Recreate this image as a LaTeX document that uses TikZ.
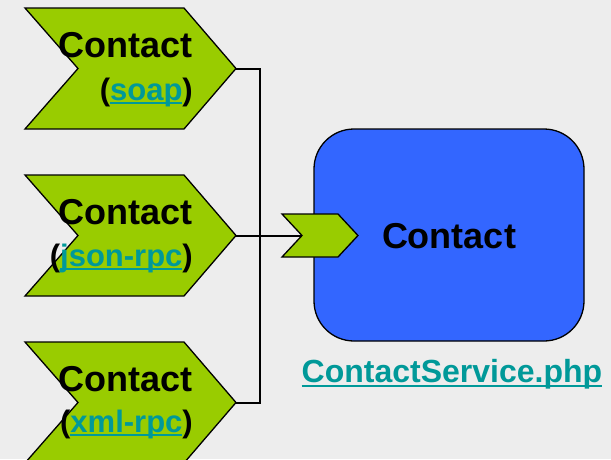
\documentclass[tikz,border=0pt]{standalone}
\usepackage{fontspec}
\setmainfont{Liberation Sans}
\definecolor{bg}{RGB}{237,237,237}
\definecolor{leaf}{RGB}{153,204,0}
\definecolor{svcblue}{RGB}{51,102,255}
\definecolor{lnkcol}{RGB}{0,153,153}
% teal link text with a rule just under the baseline
\newcommand{\lnk}[2][3.5pt]{\textcolor{lnkcol}{\setbox0\hbox{#2}\rlap{\rule[-#1]{\wd0}{2pt}}\box0}}
\begin{document}
\begin{tikzpicture}[x=1pt,y=-1pt,
  chevron/.style={fill=leaf,draw=black,line width=1.3pt,line join=miter},
  wire/.style={draw=black,line width=2pt},
  titletext/.style={font=\bfseries\fontsize{36}{36}\selectfont,inner sep=0pt},
  subtext/.style={font=\bfseries\fontsize{31}{31}\selectfont,inner sep=0pt}]
\clip (0,0) rectangle (611,459);
\fill[bg] (0,0) rectangle (611,459);

% three protocol chevrons, tops at 8, 175 and 342
\foreach \n/\t in {1/8,2/175,3/342}{
  \draw[chevron] (25,\t) -- (184,\t) -- (236,\t+60.5) -- (184,\t+121)
     -- (25,\t+121) -- (78,\t+60.5) -- cycle;
  \coordinate (tip\n) at (236,\t+60.5);
  \node[titletext,anchor=base east] (name\n) at (193,\t+49) {Contact};
}
\node[subtext,anchor=base east] (proto1) at (193,100) {(\lnk{soap})};
\node[subtext,anchor=base east] (proto2) at (193,266) {(\lnk{json-rpc})};
\node[subtext,anchor=base east] (proto3) at (193,432) {(\lnk{xml-rpc})};

% service box
\node[draw=black,line width=1.3pt,fill=svcblue,rounded corners=40pt,
  minimum width=270pt,minimum height=212pt,inner sep=0pt] (svc) at (449,235) {};
\node[titletext,anchor=base] (svclabel) at (449,248) {Contact};
\node[font=\bfseries\fontsize{32}{32}\selectfont,inner sep=0pt,anchor=base]
  (svcfile) at (452,382) {\lnk[5pt]{ContactService.php}};

% entry chevron on the service box
\draw[chevron] (282,214) -- (338,214) -- (358,235.5) -- (338,257)
  -- (282,257) -- (302,235.5) -- cycle;
\coordinate (entry) at (302,235.5);

% wiring
\coordinate (bus1) at (260,68.5);
\coordinate (bus3) at (260,402.5);
\draw[wire] (tip1) -- (bus1) -- (bus3) -- (tip3);
\draw[wire] (tip2) -- (entry);
\end{tikzpicture}
\end{document}
